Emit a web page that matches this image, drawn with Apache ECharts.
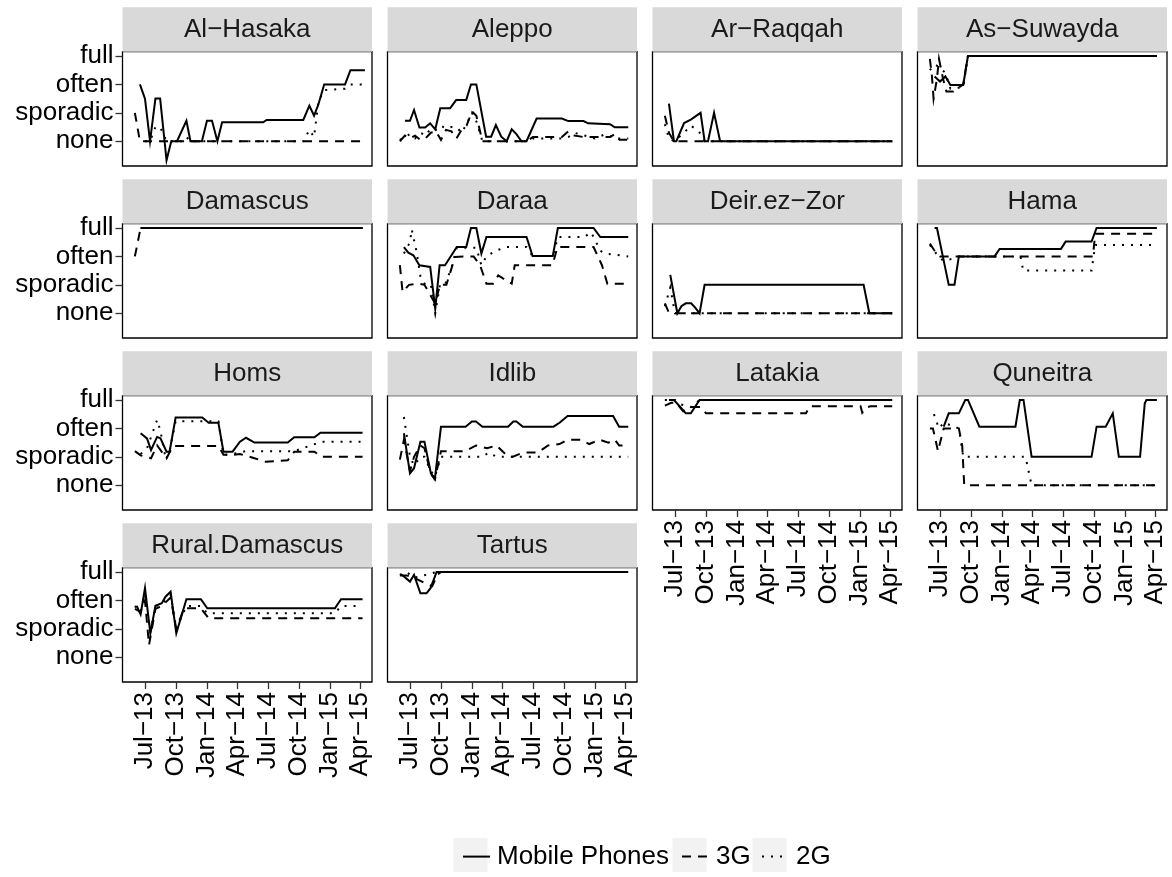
<!DOCTYPE html>
<html><head><meta charset="utf-8">
<script src="https://cdn.jsdelivr.net/npm/echarts@6/dist/echarts.min.js"></script>
<style>html,body{margin:0;padding:0;background:#fff}#chart{width:1172px;height:877px}</style>
</head><body><div id="chart"></div>
<script>
// ---------- DATA ----------
const regionNames = ['Al\u2212Hasaka','Aleppo','Ar\u2212Raqqah','As\u2212Suwayda','Damascus','Daraa','Deir.ez\u2212Zor','Hama','Homs','Idlib','Latakia','Quneitra','Rural.Damascus','Tartus'];
const seriesNames = ['Mobile Phones','3G','2G'];
const levelValues = [1,2,3,4];
const levelNames = ['none','sporadic','often','full'];
const xTickDates = ['2013-07-01','2013-10-01','2014-01-01','2014-04-01','2014-07-01','2014-10-01','2015-01-01','2015-04-01'];
const xTickLabels = ['Jul\u221213','Oct\u221213','Jan\u221214','Apr\u221214','Jul\u221214','Oct\u221214','Jan\u221215','Apr\u221215'];

const hasakaMobile = [['2013-06-16',3],['2013-07-01',2.5],['2013-07-16',1],['2013-08-01',2.5],['2013-08-15',2.5],['2013-09-03',0.33],['2013-09-17',1],['2013-10-04',1],['2013-11-01',1.72],['2013-11-13',1],['2013-12-17',1],['2014-01-01',1.72],['2014-01-16',1.72],['2014-02-01',1],['2014-02-15',1.67],['2014-06-17',1.67],['2014-06-27',1.75],['2014-10-14',1.75],['2014-11-01',2.25],['2014-11-15',1.9],['2014-11-28',2.3],['2014-12-15',3],['2015-02-15',3],['2015-03-03',3.5],['2015-04-15',3.5]];
const hasaka3G = [['2013-06-01',2],['2013-06-16',1],['2015-04-15',1]];
const hasaka2G = [['2013-07-01',1],['2013-07-16',1],['2013-08-01',1.5],['2013-08-15',1.5],['2013-09-03',1],['2013-10-20',1],['2013-11-01',1.15],['2013-11-13',1],['2014-10-14',1],['2014-11-01',1.4],['2014-11-15',1.15],['2014-11-28',2.4],['2014-12-15',2.8],['2015-02-15',2.85],['2015-03-03',3],['2015-04-15',3]];

const aleppoMobile = [['2013-06-16',1.72],['2013-07-01',1.72],['2013-07-13',2.1],['2013-07-29',1.48],['2013-08-15',1.48],['2013-08-30',1.63],['2013-09-14',1.42],['2013-09-29',2.16],['2013-10-28',2.16],['2013-11-15',2.45],['2013-12-15',2.45],['2013-12-29',3],['2014-01-14',3],['2014-02-12',1.16],['2014-02-27',1.16],['2014-03-13',1.57],['2014-03-29',1.16],['2014-04-14',1],['2014-04-29',1.42],['2014-05-13',1.25],['2014-05-28',1],['2014-06-12',1],['2014-07-12',1.8],['2014-09-25',1.8],['2014-10-14',1.71],['2014-11-28',1.71],['2014-12-12',1.63],['2015-02-15',1.6],['2015-03-01',1.49],['2015-04-10',1.49]];
const aleppo3G = [['2013-06-01',1.0],['2013-06-16',1.2],['2013-07-01',1.1],['2013-07-16',1.2],['2013-08-01',1.05],['2013-08-16',1.1],['2013-09-01',1.3],['2013-09-16',1.35],['2013-10-01',1.05],['2013-10-16',1.4],['2013-11-01',1.35],['2013-11-16',1.1],['2013-12-01',1.4],['2013-12-16',1.55],['2014-01-01',2.05],['2014-01-14',1.9],['2014-02-01',1.0],['2014-06-12',1.0],['2014-07-01',1.15],['2014-09-25',1.15],['2014-10-14',1.35],['2014-11-01',1.2],['2014-11-28',1.15],['2015-02-15',1.15],['2015-03-01',1.25],['2015-03-15',1.05],['2015-04-10',1.05]];
const aleppo2G = [['2013-06-01',1.05],['2013-06-16',1.15],['2013-07-01',1.25],['2013-07-16',1.1],['2013-08-01',1.3],['2013-08-16',1.2],['2013-09-01',1.45],['2013-09-16',1.4],['2013-10-01',1.55],['2013-10-16',1.45],['2013-11-01',1.5],['2013-11-16',1.5],['2013-12-01',1.3],['2013-12-16',1.6],['2014-01-01',2.0],['2014-01-14',1.7],['2014-02-01',1.0],['2014-06-12',1.0],['2014-07-01',1.1],['2014-09-25',1.1],['2014-10-14',1.15],['2014-11-01',1.3],['2014-12-01',1.2],['2015-01-01',1.1],['2015-02-01',1.25],['2015-03-01',1.1],['2015-04-10',1.1]];

const raqqahMobile = [['2013-06-13',2.32],['2013-06-28',1],['2013-07-05',1],['2013-07-28',1.64],['2013-08-17',1.76],['2013-09-15',2],['2013-09-27',1],['2013-10-07',1],['2013-10-25',2],['2013-11-12',1],['2015-04-07',1]];
const raqqah3G = [['2013-06-01',1.9],['2013-06-13',1.3],['2013-06-28',1],['2015-04-07',1]];
const raqqah2G = [['2013-06-01',1.6],['2013-06-13',1.1],['2013-06-28',1],['2013-07-28',1.3],['2013-08-17',1.55],['2013-09-10',1.35],['2013-09-27',1],['2015-04-07',1]];

const suwaydaMobile = [['2013-06-15',3.28],['2013-07-01',3.1],['2013-07-17',3.28],['2013-08-01',2.98],['2013-09-08',2.98],['2013-09-22',4],['2015-04-06',4]];
const suwayda3G = [['2013-06-01',3.9],['2013-06-07',3.3],['2013-06-12',2.5],['2013-06-22',3.2],['2013-06-28',3.9],['2013-07-10',3.2],['2013-07-20',2.75],['2013-08-10',2.75],['2013-09-08',3.0],['2013-09-22',4],['2015-04-06',4]];
const suwayda2G = [['2013-06-01',3.5],['2013-06-15',3.7],['2013-07-01',3.6],['2013-07-17',3.4],['2013-08-01',2.85],['2013-09-08',2.9],['2013-09-22',4],['2015-04-06',4]];

const damascusMobile = [['2013-06-18',4],['2015-04-09',4]];
const damascus3G = [['2013-06-01',3],['2013-06-18',4],['2015-04-09',4]];
const damascus2G = [['2013-06-18',4],['2015-04-09',4]];

const daraaMobile = [['2013-06-13',3.33],['2013-06-26',3.13],['2013-07-11',3.04],['2013-07-29',2.69],['2013-08-30',2.63],['2013-09-14',1.16],['2013-09-27',2.69],['2013-10-13',2.69],['2013-11-17',3.33],['2013-12-15',3.33],['2013-12-29',4],['2014-01-14',4],['2014-01-29',3.1],['2014-02-13',3.68],['2014-06-12',3.68],['2014-06-30',3.01],['2014-08-29',3.01],['2014-09-13',4],['2014-12-28',4],['2015-01-17',3.68],['2015-04-10',3.68]];
const daraa3G = [['2013-06-01',2.69],['2013-06-09',1.75],['2013-06-28',2.0],['2013-07-27',2.04],['2013-08-13',2.0],['2013-09-14',1.34],['2013-09-28',2.0],['2013-10-17',2.0],['2013-11-12',2.98],['2013-12-16',3.0],['2014-01-06',3.0],['2014-01-25',2.69],['2014-02-13',2.04],['2014-03-05',2.04],['2014-03-20',2.33],['2014-04-29',2.04],['2014-05-08',2.69],['2014-08-28',2.69],['2014-09-12',3.33],['2014-12-28',3.33],['2015-01-22',2.69],['2015-02-07',2.04],['2015-04-10',2.04]];
const daraa2G = [['2013-06-13',3.1],['2013-07-01',3.5],['2013-07-06',3.95],['2013-07-20',3.2],['2013-08-01',2.3],['2013-08-15',2.0],['2013-09-01',2.0],['2013-09-14',1.0],['2013-09-28',2.0],['2013-10-13',2.0],['2013-11-01',2.6],['2013-11-17',3.3],['2014-01-14',3.3],['2014-01-29',2.69],['2014-02-13',3.0],['2014-03-13',3.2],['2014-04-13',3.33],['2014-06-12',3.33],['2014-06-30',3.01],['2014-08-29',3.01],['2014-09-13',3.68],['2014-12-01',3.68],['2014-12-20',3.85],['2014-12-28',3.68],['2015-01-17',3.2],['2015-02-01',3.1],['2015-04-10',3.0]];

const deirMobile = [['2013-06-17',2.35],['2013-07-08',1],['2013-07-20',1.25],['2013-08-02',1.35],['2013-08-18',1.35],['2013-08-30',1.2],['2013-09-12',1],['2013-09-27',2],['2015-01-12',2],['2015-01-29',1],['2015-04-07',1]];
const deir3G = [['2013-06-01',1.35],['2013-06-12',1.05],['2013-06-25',1],['2015-04-07',1]];
const deir2G = [['2013-06-01',1.25],['2013-06-17',1.9],['2013-07-01',1],['2015-04-07',1]];

const hamaMobile = [['2013-06-15',4],['2013-06-22',4],['2013-07-27',2],['2013-08-13',2],['2013-08-26',3],['2013-12-10',3],['2013-12-25',3.26],['2014-06-25',3.26],['2014-07-09',3.52],['2014-09-24',3.52],['2014-10-09',4],['2015-04-06',4]];
const hama3G = [['2013-06-01',3.45],['2013-06-15',3.2],['2013-07-01',3],['2014-09-28',3],['2014-10-05',3.8],['2015-04-06',3.8]];
const hama2G = [['2013-06-01',3.4],['2013-06-20',3.1],['2013-07-10',2.85],['2013-08-01',2.9],['2013-08-26',3],['2014-02-25',3],['2014-03-05',2.5],['2014-09-24',2.5],['2014-10-05',3.4],['2015-04-06',3.4]];

const homsMobile = [['2013-06-18',2.83],['2013-07-07',2.65],['2013-07-19',2.24],['2013-08-06',2.7],['2013-08-16',2.65],['2013-09-03',2.18],['2013-09-12',2.18],['2013-09-30',3.38],['2013-12-18',3.38],['2014-01-06',3.2],['2014-02-04',3.2],['2014-02-19',2.18],['2014-03-18',2.18],['2014-04-09',2.53],['2014-04-27',2.67],['2014-05-22',2.5],['2014-08-29',2.5],['2014-09-17',2.69],['2014-11-16',2.69],['2014-12-04',2.85],['2015-04-08',2.85]];
const homs3G = [['2013-06-01',2.2],['2013-06-18',2.05],['2013-07-19',1.95],['2013-08-06',2.4],['2013-09-03',1.95],['2013-09-22',2.38],['2014-02-04',2.38],['2014-02-19',2.07],['2014-03-18',2.07],['2014-04-09',2.1],['2014-05-22',1.95],['2014-06-24',1.83],['2014-08-29',1.88],['2014-09-17',2.18],['2014-11-16',2.18],['2014-12-07',2.0],['2015-04-08',2.0]];
const homs2G = [['2013-06-18',2.1],['2013-07-07',2.3],['2013-08-06',3.3],['2013-08-16',2.9],['2013-09-01',1.9],['2013-09-12',2.2],['2013-09-30',3.25],['2014-02-04',3.25],['2014-02-19',2.07],['2014-03-18',2.1],['2014-04-27',2.2],['2014-09-17',2.2],['2014-12-07',2.53],['2015-04-08',2.53]];

const idlibMobile = [['2013-06-13',2.83],['2013-07-01',1.42],['2013-07-13',1.6],['2013-08-01',2.53],['2013-08-13',2.53],['2013-09-01',1.42],['2013-09-13',1.24],['2013-10-01',3.06],['2013-12-13',3.06],['2014-01-01',3.24],['2014-01-13',3.24],['2014-02-01',3.06],['2014-04-18',3.06],['2014-05-04',3.24],['2014-05-13',3.24],['2014-06-01',3.06],['2014-08-31',3.06],['2014-09-18',3.2],['2014-10-12',3.44],['2015-02-24',3.44],['2015-03-14',3.06],['2015-04-10',3.06]];
const idlib3G = [['2013-06-01',1.9],['2013-06-13',2.6],['2013-07-01',1.5],['2013-07-13',2.0],['2013-08-01',2.4],['2013-08-13',2.3],['2013-09-01',1.4],['2013-09-13',1.2],['2013-10-01',2.2],['2013-12-13',2.2],['2014-01-13',2.4],['2014-02-15',2.3],['2014-03-15',2.4],['2014-04-10',2.1],['2014-05-01',2.0],['2014-06-01',2.15],['2014-07-15',2.15],['2014-08-15',2.4],['2014-09-18',2.45],['2014-10-12',2.6],['2014-11-20',2.6],['2014-12-15',2.45],['2015-01-15',2.6],['2015-02-10',2.5],['2015-03-01',2.6],['2015-03-14',2.4],['2015-04-10',2.4]];
const idlib2G = [['2013-06-13',3.4],['2013-07-01',2.0],['2013-07-13',1.7],['2013-08-01',2.0],['2013-08-13',2.0],['2013-09-01',1.5],['2013-09-13',1.3],['2013-10-01',2.0],['2014-02-01',2.0],['2014-02-20',2.15],['2014-03-15',2.0],['2015-04-10',2.0]];

const latakiaMobile = [['2013-06-13',4],['2013-06-28',4],['2013-07-16',3.76],['2013-08-02',3.53],['2013-08-17',3.53],['2013-09-12',4],['2015-04-07',4]];
const latakia3G = [['2013-06-01',3.8],['2013-06-20',3.9],['2013-07-05',3.9],['2013-07-25',3.6],['2013-08-17',3.75],['2013-09-15',3.75],['2013-10-01',3.53],['2014-07-25',3.53],['2014-08-05',3.78],['2015-01-03',3.78],['2015-01-08',3.55],['2015-01-18',3.72],['2015-02-01',3.78],['2015-04-07',3.78]];
const latakia2G = [['2013-06-01',4],['2013-07-01',4],['2013-07-16',3.85],['2013-08-17',3.75],['2013-09-12',4],['2015-04-07',4]];

const quneitraMobile = [['2013-07-12',3.06],['2013-07-27',3.53],['2013-08-26',3.53],['2013-09-14',4],['2013-09-22',4],['2013-10-26',3.06],['2014-02-10',3.06],['2014-02-23',4],['2014-03-06',4],['2014-03-30',2],['2014-09-24',2],['2014-10-09',3.06],['2014-11-05',3.06],['2014-11-26',3.53],['2014-12-14',2],['2015-02-15',2],['2015-03-01',3.88],['2015-03-06',4],['2015-04-06',4]];
const quneitra3G = [['2013-06-01',3],['2013-06-10',3],['2013-06-15',2.75],['2013-06-25',2.2],['2013-07-12',3],['2013-08-26',3],['2013-09-05',2.4],['2013-09-11',1],['2015-04-06',1]];
const quneitra2G = [['2013-06-13',3.5],['2013-06-28',3.0],['2013-07-12',3.2],['2013-08-26',3.0],['2013-09-08',2],['2014-03-12',2],['2014-03-30',1],['2015-04-06',1]];

const ruralMobile = [['2013-06-06',2.81],['2013-06-18',2.51],['2013-07-01',3.43],['2013-07-17',1.84],['2013-08-01',2.81],['2013-08-20',2.9],['2013-08-31',3.13],['2013-09-15',3.31],['2013-10-02',1.84],['2013-11-01',3.04],['2013-12-14',3.04],['2014-01-02',2.72],['2015-01-16',2.72],['2015-02-03',3.04],['2015-04-08',3.04]];
const rural3G = [['2013-06-01',2.7],['2013-06-18',2.6],['2013-07-01',3.0],['2013-07-13',1.43],['2013-08-01',2.7],['2013-08-20',2.8],['2013-09-15',3.1],['2013-10-02',2.0],['2013-10-25',2.72],['2013-12-14',2.72],['2014-01-06',2.37],['2015-04-08',2.37]];
const rural2G = [['2013-06-01',2.8],['2013-06-18',2.6],['2013-07-01',3.2],['2013-07-17',1.9],['2013-08-01',2.8],['2013-08-20',2.85],['2013-09-15',3.2],['2013-10-02',2.0],['2013-11-01',2.8],['2013-12-14',2.8],['2014-01-02',2.55],['2015-01-16',2.55],['2015-02-03',2.8],['2015-04-08',2.8]];

const tartusMobile = [['2013-06-07',3.9],['2013-06-11',3.9],['2013-07-01',3.66],['2013-07-13',3.9],['2013-08-01',3.25],['2013-08-19',3.25],['2013-08-31',3.43],['2013-09-18',4],['2015-04-10',4]];
const tartus3G = [['2013-06-01',3.88],['2013-06-20',3.88],['2013-07-13',3.8],['2013-08-15',3.6],['2013-09-05',3.5],['2013-09-20',3.9],['2013-10-01',4],['2015-04-10',4]];
const tartus2G = [['2013-06-01',3.9],['2013-06-20',4],['2013-07-13',3.8],['2013-08-19',3.9],['2013-09-18',4],['2015-04-10',4]];

const regionSeries = [
  [hasakaMobile, hasaka3G, hasaka2G],
  [aleppoMobile, aleppo3G, aleppo2G],
  [raqqahMobile, raqqah3G, raqqah2G],
  [suwaydaMobile, suwayda3G, suwayda2G],
  [damascusMobile, damascus3G, damascus2G],
  [daraaMobile, daraa3G, daraa2G],
  [deirMobile, deir3G, deir2G],
  [hamaMobile, hama3G, hama2G],
  [homsMobile, homs3G, homs2G],
  [idlibMobile, idlib3G, idlib2G],
  [latakiaMobile, latakia3G, latakia2G],
  [quneitraMobile, quneitra3G, quneitra2G],
  [ruralMobile, rural3G, rural2G],
  [tartusMobile, tartus3G, tartus2G]
];

// ---------- LAYOUT / STYLE ----------
const FONT = '"Liberation Sans", Arial, Helvetica, sans-serif';
const FS = 26;
const LEFT0 = 122.5, COL_PITCH = 265, PW = 249.5;
const TOP0 = 51.7, ROW_PITCH = 172, PH = 114.3, STRIP_H = 44.4;
const X_MIN = Date.parse('2013-04-25T06:00:00Z');
const X_MAX = Date.parse('2015-05-06T00:00:00Z');
const Y_MIN = 0.13, Y_MAX = 4.15;
const lineTypes = ['solid', [9, 7], [2, 7]];

const tickTs = xTickDates.map(d => Date.parse(d));

const chart = echarts.init(document.getElementById('chart'), null, {renderer: 'canvas'});
const grids = [], xAxes = [], yAxes = [], series = [], graphics = [];

regionNames.forEach((name, i) => {
  const row = Math.floor(i / 4), col = i % 4;
  const left = LEFT0 + col * COL_PITCH;
  const top = TOP0 + row * ROW_PITCH;
  const bottomPanel = row === 3 || (row === 2 && col >= 2);
  const firstCol = col === 0;
  grids.push({left: left, top: top, width: PW, height: PH, show: true,
    borderColor: '#000', borderWidth: 1.3, backgroundColor: '#fff',
    containLabel: false, outerBoundsMode: 'none'});
  xAxes.push({type: 'value', gridIndex: i, min: X_MIN, max: X_MAX,
    axisLine: {show: false}, splitLine: {show: false},
    axisTick: {show: bottomPanel, length: 7, customValues: tickTs, lineStyle: {color: '#333', width: 1.3}},
    axisLabel: {show: bottomPanel, customValues: tickTs, rotate: 90, margin: 10,
      color: '#000', fontSize: FS, fontFamily: FONT,
      formatter: v => { const k = tickTs.indexOf(v); return k >= 0 ? xTickLabels[k] : ''; }}});
  yAxes.push({type: 'value', gridIndex: i, min: Y_MIN, max: Y_MAX,
    axisLine: {show: false}, splitLine: {show: false},
    axisTick: {show: firstCol, length: 7, customValues: levelValues, lineStyle: {color: '#333', width: 1.3}},
    axisLabel: {show: firstCol, customValues: levelValues, margin: 9,
      color: '#000', fontSize: FS, fontFamily: FONT,
      formatter: v => { const k = levelValues.indexOf(v); return k >= 0 ? levelNames[k] : ''; }}});
  regionSeries[i].forEach((pts, s) => {
    series.push({type: 'line', name: seriesNames[s], xAxisIndex: i, yAxisIndex: i,
      data: pts.map(p => [Date.parse(p[0]), p[1]]),
      showSymbol: false, symbol: 'none', silent: true, animation: false,
      itemStyle: {color: '#000'},
      lineStyle: {color: '#000', width: 2, type: lineTypes[s], cap: 'butt', join: 'miter'}});
  });
  graphics.push({type: 'rect', shape: {x: left, y: top - STRIP_H, width: PW, height: STRIP_H},
    style: {fill: '#D9D9D9'}, silent: true});
  graphics.push({type: 'text', x: left + PW / 2, y: top - STRIP_H / 2,
    style: {text: name, fill: '#1A1A1A', font: FS + 'px ' + FONT,
      align: 'center', verticalAlign: 'middle', textAlign: 'center', textVerticalAlign: 'middle'}, silent: true});
});

// legend: one legend component per entry, each with a grey key box behind its line sample
const KEY_BOX = 34, KEY_LINE = 27, LEG_TOP = 838;
const keyBoxLefts = [453.5, 672.5, 752.5];
const legends = seriesNames.map((n, k) => {
  graphics.push({type: 'rect', shape: {x: keyBoxLefts[k], y: LEG_TOP, width: KEY_BOX, height: KEY_BOX},
    style: {fill: '#F2F2F2'}, silent: true, z: -10});
  return {data: [n], left: keyBoxLefts[k] + (KEY_BOX - KEY_LINE) / 2, top: LEG_TOP, orient: 'horizontal',
    itemWidth: KEY_LINE, itemHeight: KEY_BOX, z: 10, selectedMode: false,
    itemStyle: {opacity: 0, borderWidth: 0},
    lineStyle: {width: 2},
    textStyle: {color: '#000', fontSize: FS, fontFamily: FONT, padding: [0, 0, 0, 2]}};
});

chart.setOption({
  animation: false,
  backgroundColor: '#fff',
  grid: grids, xAxis: xAxes, yAxis: yAxes, series: series,
  graphic: {elements: graphics},
  legend: legends
});
</script></body></html>
